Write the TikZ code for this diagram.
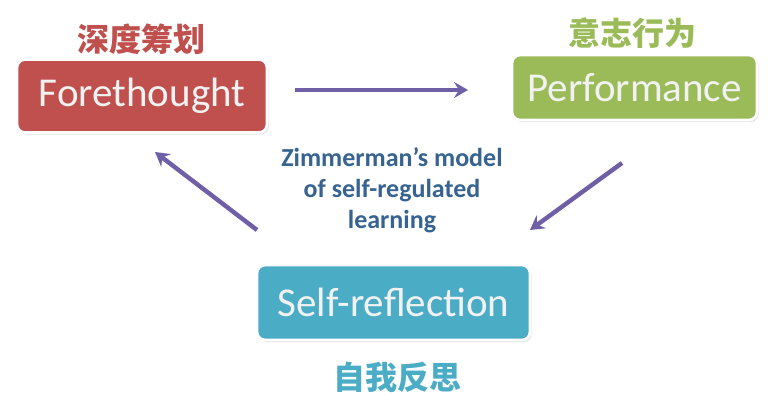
\documentclass[tikz,border=0pt]{standalone}
\usepackage{fontspec}
\setmainfont{Carlito}
\newfontfamily\cjk{Noto Sans CJK SC}
\usepackage{xcolor}
\usepackage{tikz}
\usetikzlibrary{arrows.meta, positioning, shadows}

\definecolor{foreRed}{HTML}{C0504D}
\definecolor{perfGreen}{HTML}{9BBB59}
\definecolor{reflBlue}{HTML}{4BACC6}
\definecolor{arrowPurple}{HTML}{6F5FA6}
\definecolor{modelBlue}{HTML}{36638F}

\tikzset{
  phasebox/.style={draw=white, line width=1.4pt, rounded corners=4pt, inner sep=0pt,
    drop shadow={shadow xshift=0.8pt, shadow yshift=-1pt, opacity=0.25, fill=gray},
    text=white!95!black, font=\fontsize{20.5}{24}\selectfont},
  cnlabel/.style={font=\cjk\bfseries\fontsize{16}{18}\selectfont},
  cyclearrow/.style={-{Stealth[length=7pt, width=8pt, inset=2.5pt]}, line width=2.2pt, arrowPurple}
}

\begin{document}
\begin{tikzpicture}[x=0.5pt, y=-0.5pt]
\fill[white] (0,0) rectangle (776,418);
\node[phasebox, fill=foreRed, minimum width=125pt, minimum height=36.5pt] (fore) at (142,96) {Forethought};
\node[phasebox, fill=perfGreen, minimum width=122.5pt, minimum height=32.5pt] (perf) at (634.5,87.5) {Performance};
\node[phasebox, fill=reflBlue, minimum width=136.5pt, minimum height=37.5pt] (refl) at (393.5,302.5) {Self-reflection};
\node[cnlabel, text=foreRed] (foreCn) at (141,39) {深度筹划};
\node[cnlabel, text=perfGreen] (perfCn) at (632,33) {意志行为};
\node[cnlabel, text=reflBlue] (reflCn) at (397,377) {自我反思};
\node[align=center, text=modelBlue, font=\bfseries\fontsize{13}{15.5}\selectfont] (model) at (392,190)
  {Zimmerman’s model\\of self-regulated\\learning};
% arrow ends
\coordinate (foreOut) at (295,90);
\coordinate (perfIn) at (468,90);
\coordinate (perfOut) at (622,163);
\coordinate (reflIn) at (530,230);
\coordinate (reflOut) at (257,230);
\coordinate (foreIn) at (155,152);
\draw[cyclearrow] (foreOut) -- (perfIn);
\draw[cyclearrow] (perfOut) -- (reflIn);
\draw[cyclearrow] (reflOut) -- (foreIn);
\end{tikzpicture}
\end{document}
